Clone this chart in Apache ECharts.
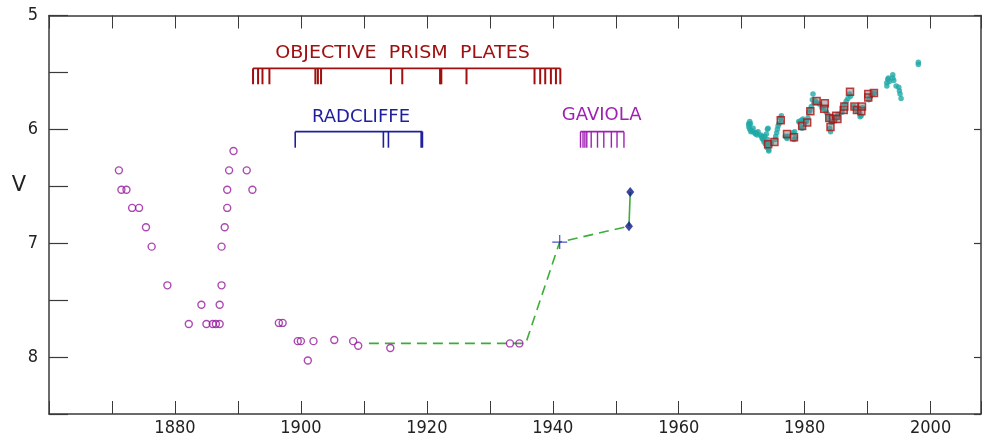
<!DOCTYPE html>
<html>
<head>
<meta charset="utf-8">
<title>V light curve</title>
<script src="https://cdn.jsdelivr.net/npm/echarts@6/dist/echarts.min.js"></script>
<style>
  html, body { margin: 0; padding: 0; background: #fff; }
  #lightCurve { width: 984px; height: 437px; }
</style>
</head>
<body>
<div id="lightCurve"></div>
<script>
// ---- data ----
// old visual estimates (open circles)
var visualEst = [
  [1871.1, 6.36], [1871.5, 6.53], [1872.3, 6.53], [1873.2, 6.69], [1874.3, 6.69],
  [1875.4, 6.86], [1876.3, 7.03], [1878.8, 7.37], [1882.2, 7.71], [1884.2, 7.54],
  [1885.0, 7.71], [1886.0, 7.71], [1886.5, 7.71], [1887.1, 7.71], [1887.1, 7.54],
  [1887.4, 7.37], [1887.4, 7.03], [1887.9, 6.86], [1888.3, 6.69], [1888.3, 6.53],
  [1888.6, 6.36], [1889.3, 6.19], [1891.4, 6.36], [1892.3, 6.53],
  [1896.5, 7.70], [1897.1, 7.70], [1899.5, 7.86], [1900.0, 7.86], [1901.1, 8.03],
  [1902.0, 7.86], [1905.3, 7.85], [1908.3, 7.86], [1909.1, 7.90], [1914.2, 7.92],
  [1933.2, 7.88], [1934.7, 7.88]
];
// dashed green trend
var trendDashed = [[1910.8, 7.88], [1935.7, 7.88], [1941.1, 6.99], [1952.1, 6.85]];
var trendSolid = [[1952.1, 6.85], [1952.3, 6.55]];
var plusPoint = [[1941.1, 6.99]];
var diamondPoints = [[1952.1, 6.85], [1952.3, 6.55]];

// photoelectric points (teal)
var photoPoints = [
  [1971.28, 5.93], [1971.39, 5.95], [1971.13, 5.98], [1971.28, 6.00], [1971.55, 6.01],
  [1971.81, 6.02], [1972.08, 6.03], [1971.81, 5.99], [1972.34, 6.03], [1972.60, 6.02],
  [1971.20, 5.96], [1971.45, 6.02], [1972.20, 6.04], [1971.10, 5.95], [1972.45, 6.05],
  [1973.13, 6.06], [1973.40, 6.07], [1973.66, 6.06], [1973.92, 6.04], [1974.08, 6.00],
  [1974.19, 5.99], [1973.40, 6.09], [1973.66, 6.10], [1973.92, 6.12], [1974.19, 6.15],
  [1974.29, 6.18], [1974.45, 6.13], [1974.72, 6.12], [1973.03, 6.05], [1973.80, 6.13],
  [1974.30, 6.19], [1974.00, 6.16], [1973.25, 6.08], [1973.55, 6.11], [1974.10, 6.09],
  [1975.40, 6.06], [1975.56, 6.03], [1975.67, 6.00], [1975.77, 5.97], [1975.93, 5.95],
  [1976.14, 5.90], [1976.30, 5.88], [1976.30, 5.93], [1975.30, 6.09],
  [1977.09, 6.07], [1977.36, 6.06], [1978.15, 6.03], [1978.41, 6.02], [1978.31, 6.09],
  [1978.52, 6.07], [1976.93, 6.06], [1977.20, 6.08],
  [1979.05, 5.93], [1979.20, 5.94], [1979.47, 5.92], [1979.73, 5.91], [1980.00, 5.94],
  [1980.26, 5.93], [1980.52, 5.90], [1980.68, 5.85], [1980.84, 5.83], [1981.05, 5.80],
  [1981.21, 5.74], [1981.32, 5.69], [1981.47, 5.77], [1979.60, 5.99], [1979.40, 5.98],
  [1981.69, 5.75], [1982.11, 5.77], [1982.37, 5.78], [1982.74, 5.81], [1983.06, 5.82],
  [1983.43, 5.85], [1983.69, 5.87],
  [1983.80, 5.91], [1983.96, 5.99], [1984.11, 6.02], [1984.22, 5.94], [1984.48, 5.93],
  [1984.75, 5.91], [1985.01, 5.90], [1985.17, 5.88], [1985.28, 5.87],
  [1985.91, 5.85], [1986.07, 5.82], [1986.33, 5.78], [1986.60, 5.75], [1986.86, 5.73],
  [1987.12, 5.69], [1987.28, 5.71],
  [1987.81, 5.80], [1988.07, 5.82], [1988.34, 5.84], [1988.71, 5.85], [1988.97, 5.88],
  [1989.23, 5.81], [1988.80, 5.89],
  [1990.19, 5.74], [1990.45, 5.71], [1990.82, 5.69], [1991.08, 5.68],
  [1993.04, 5.59], [1993.20, 5.56], [1993.30, 5.55], [1993.46, 5.58], [1993.99, 5.52],
  [1994.15, 5.57], [1994.52, 5.62], [1994.94, 5.63], [1995.04, 5.66], [1995.15, 5.69],
  [1995.31, 5.73], [1993.05, 5.62], [1994.00, 5.55],
  [1998.05, 5.41], [1998.05, 5.43]
];
// red squares
var squarePoints = [
  [1974.2, 6.13], [1975.2, 6.11], [1976.2, 5.92], [1977.2, 6.04], [1978.3, 6.07],
  [1979.6, 5.97], [1980.4, 5.94], [1980.9, 5.84], [1981.9, 5.75], [1983.2, 5.77],
  [1983.1, 5.82], [1983.9, 5.90], [1984.1, 5.98], [1984.5, 5.91], [1985.0, 5.88],
  [1985.2, 5.91], [1986.2, 5.83], [1986.3, 5.80], [1987.2, 5.67], [1987.9, 5.80],
  [1988.3, 5.83], [1989.0, 5.84], [1989.1, 5.80], [1990.1, 5.69], [1990.1, 5.72],
  [1991.0, 5.68]
];

// plate epochs
var prismPlates = [1892.4, 1893.2, 1893.9, 1895.0, 1902.3, 1902.7, 1903.2, 1914.3, 1916.1,
  1922.1, 1922.3, 1926.3, 1937.1, 1938.0, 1938.8, 1939.7, 1940.5, 1941.2];
var radcliffePlates = [1899.1, 1913.1, 1913.9, 1919.1, 1919.3];
var gaviolaPlates = [1944.4, 1944.8, 1945.1, 1945.4, 1946.1, 1947.1, 1948.1, 1949.3, 1950.2, 1951.3];

var xTicks = [1880, 1900, 1920, 1940, 1960, 1980, 2000];
var yTicks = [5, 6, 7, 8];

// ---- helpers ----
// bracket of plate ticks: vertical ticks hanging from a horizontal bar
function plateTicks(years, top, bottom, color, width) {
  return {
    type: 'custom',
    silent: true,
    z: 3,
    renderItem: function (params, api) {
      var p1 = api.coord([api.value(0), top]);
      var p2 = api.coord([api.value(0), bottom]);
      return {
        type: 'line',
        shape: { x1: p1[0], y1: p1[1], x2: p2[0], y2: p2[1] },
        style: { stroke: color, lineWidth: width }
      };
    },
    data: years.map(function (y) { return [y, top]; })
  };
}
function plateBar(years, top, color) {
  return {
    type: 'line',
    silent: true,
    symbol: 'none',
    z: 3,
    lineStyle: { color: color, width: 1.6 },
    data: [[years[0], top], [years[years.length - 1], top]]
  };
}

var axisColor = '#3a3a3a';
var tickFont = '"DejaVu Sans Condensed", "DejaVu Sans", sans-serif';
var textFont = '"DejaVu Sans", Verdana, sans-serif';

var chart = echarts.init(document.getElementById('lightCurve'));

option = {
  animation: false,
  backgroundColor: '#fff',
  grid: { left: 49, right: 1, top: 15.5, bottom: 23, containLabel: false },
  xAxis: [
    {
      type: 'value', min: 1860, max: 2008, interval: 10, position: 'bottom',
      splitLine: { show: false },
      axisLine: { lineStyle: { color: axisColor, width: 1.5 } },
      axisTick: { inside: true, length: 13, lineStyle: { color: axisColor, width: 1 } },
      axisLabel: {
        margin: 5, fontSize: 18, fontFamily: tickFont, color: '#222',
        formatter: function (v) { return xTicks.indexOf(v) >= 0 ? String(v) : ''; }
      }
    },
    {
      type: 'value', min: 1860, max: 2008, interval: 10, position: 'top',
      splitLine: { show: false },
      axisLine: { lineStyle: { color: axisColor, width: 1.5 } },
      axisTick: { inside: true, length: 13, lineStyle: { color: axisColor, width: 1 } },
      axisLabel: { show: false }
    }
  ],
  yAxis: [
    {
      type: 'value', inverse: true, min: 5, max: 8.5, interval: 0.5, position: 'left',
      splitLine: { show: false },
      axisLine: { lineStyle: { color: axisColor, width: 1.5 } },
      axisTick: { inside: true, length: 19, lineStyle: { color: axisColor, width: 1.2 } },
      axisLabel: {
        margin: 11, fontSize: 18, fontFamily: tickFont, color: '#222',
        formatter: function (v) { return yTicks.indexOf(v) >= 0 ? String(v) : ''; }
      }
    },
    {
      type: 'value', inverse: true, min: 5, max: 8.5, interval: 1, position: 'right',
      splitLine: { show: false },
      axisLine: { lineStyle: { color: axisColor, width: 1.5 } },
      axisTick: { inside: true, length: 7, lineStyle: { color: axisColor, width: 1.2 } },
      axisLabel: { show: false }
    }
  ],
  graphic: [
    { type: 'text', x: 19, y: 186, style: { text: 'V', font: '21px ' + textFont, fill: '#222', textAlign: 'center', textVerticalAlign: 'middle' } },
    { type: 'text', x: 402.5, y: 53.5, scaleX: 1.06, style: { text: 'OBJECTIVE  PRISM  PLATES', font: '18px ' + textFont, fill: '#a01010', textAlign: 'center', textVerticalAlign: 'middle' } },
    { type: 'text', x: 361, y: 118, scaleX: 1.06, style: { text: 'RADCLIFFE', font: '17px ' + textFont, fill: '#1e1ea0', textAlign: 'center', textVerticalAlign: 'middle' } },
    { type: 'text', x: 601.7, y: 116, scaleX: 1.06, style: { text: 'GAVIOLA', font: '17px ' + textFont, fill: '#a020b4', textAlign: 'center', textVerticalAlign: 'middle' } }
  ],
  series: [
    plateBar(prismPlates, 5.464, '#a01010'),
    plateTicks(prismPlates, 5.464, 5.604, '#a01010', 2),
    plateBar(radcliffePlates, 6.02, '#1e1ea0'),
    plateTicks(radcliffePlates, 6.02, 6.161, '#1e1ea0', 1.6),
    plateBar(gaviolaPlates, 6.02, '#a020b4'),
    plateTicks(gaviolaPlates, 6.02, 6.161, '#a020b4', 1.4),
    {
      name: 'trend', type: 'line', symbol: 'none', z: 2, silent: true,
      lineStyle: { color: '#3cae38', width: 1.6, type: [10, 6] },
      data: trendDashed
    },
    {
      name: 'trend2', type: 'line', symbol: 'none', z: 2, silent: true,
      lineStyle: { color: '#3cae38', width: 1.6 },
      data: trendSolid
    },
    {
      name: 'visual', type: 'scatter', symbol: 'circle', symbolSize: 7, z: 4,
      itemStyle: { color: 'rgba(255,255,255,0)', borderColor: '#961a9e', borderWidth: 1.4 },
      data: visualEst
    },
    {
      name: 'plus', type: 'scatter', z: 4,
      symbol: 'path://M0,6.4h15v1.2h-15z M6.9,0h1.2v14h-1.2z', symbolSize: [15, 14],
      itemStyle: { color: '#2222bb' },
      data: plusPoint
    },
    {
      name: 'diamond', type: 'scatter', symbol: 'diamond', symbolSize: [8, 10], z: 4,
      itemStyle: { color: '#0a1888' },
      data: diamondPoints
    },
    {
      name: 'photo', type: 'scatter', symbol: 'circle', symbolSize: 5.5, z: 4,
      itemStyle: { color: '#1fa9a6' },
      data: photoPoints
    },
    {
      name: 'squares', type: 'scatter', symbol: 'rect', symbolSize: 7, z: 5,
      itemStyle: { color: 'rgba(110,125,125,0.6)', borderColor: '#b01212', borderWidth: 1.5 },
      data: squarePoints
    }
  ]
};
chart.setOption(option);
</script>
</body>
</html>
